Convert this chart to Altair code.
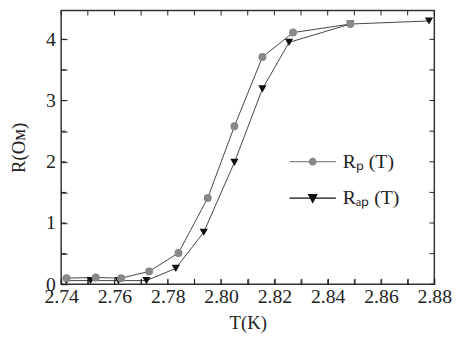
import altair as alt
import pandas as pd

# ---- data ----
T_P = [2.742, 2.753, 2.7625, 2.773, 2.784, 2.795, 2.805, 2.8155, 2.827, 2.8485]
R_P = [0.10, 0.11, 0.10, 0.21, 0.51, 1.41, 2.58, 3.71, 4.11, 4.25]
T_AP = [2.742, 2.751, 2.7615, 2.772, 2.783, 2.7935, 2.805, 2.8155, 2.8255, 2.8485, 2.878]
R_AP = [0.06, 0.06, 0.06, 0.06, 0.26, 0.85, 1.99, 3.19, 3.95, 4.25, 4.30]
SERIES = ["Rₚ (T)", "Rₐₚ (T)"]
X_TICKS = [2.74, 2.75, 2.76, 2.77, 2.78, 2.79, 2.80, 2.81, 2.82, 2.83, 2.84,
           2.85, 2.86, 2.87, 2.88]
Y_TICKS = [0, 0.5, 1, 1.5, 2, 2.5, 3, 3.5, 4]
X_DOMAIN = [2.74, 2.88]
Y_DOMAIN = [0, 4.47]

df_p = pd.DataFrame({"T": T_P, "R": R_P, "series": SERIES[0]})
df_ap = pd.DataFrame({"T": T_AP, "R": R_AP, "series": SERIES[1]})

W, H = 379, 278
FONT = "Liberation Serif"
TXT = "#222"
LINE = "#444"
GRAY = "#888888"
BLACK = "#111111"
TICK = 6
# inward tick length expressed in data units (about 5 px)
TLEN_Y = 0.08
TLEN_X = 0.0018

xs = alt.Scale(domain=X_DOMAIN, nice=False, zero=False)
ys = alt.Scale(domain=Y_DOMAIN, nice=False, zero=False)

label_x = alt.Axis(orient="bottom", offset=-TICK, values=X_TICKS, ticks=True,
                   tickSize=TICK, tickColor="#222", tickWidth=1, tickOpacity=1,
                   domain=False, grid=False, zindex=2,
                   labelExpr="round(datum.value*100) % 2 === 0 ? format(datum.value, '.2f') : ''",
                   labelFlush=False, labelOverlap=False, labelBound=False,
                   labelFont=FONT, labelFontSize=20, labelColor=TXT, labelPadding=3,
                   title="T(K)", titleFont=FONT, titleFontSize=19,
                   titleFontWeight="normal", titleColor=TXT, titlePadding=7)
label_y = alt.Axis(orient="left", offset=-TICK, values=Y_TICKS, ticks=True,
                   tickSize=TICK, tickColor="#222", tickWidth=1, tickOpacity=1,
                   domain=False, grid=False, zindex=2,
                   labelExpr="datum.value % 1 === 0 ? format(datum.value, 'd') : ''",
                   labelFlush=False, labelOverlap=False, labelBound=False,
                   labelFont=FONT, labelFontSize=20, labelColor=TXT, labelPadding=6,
                   title="R(Ом)", titleFont=FONT, titleFontSize=19,
                   titleFontWeight="normal", titleColor=TXT, titlePadding=17)

line_p = alt.Chart(df_p).mark_line(color=LINE, strokeWidth=1).encode(
    x=alt.X("T:Q", scale=xs, axis=label_x),
    y=alt.Y("R:Q", scale=ys, axis=label_y),
)
line_ap = alt.Chart(df_ap).mark_line(color=LINE, strokeWidth=1).encode(
    x=alt.X("T:Q", scale=xs, axis=None),
    y=alt.Y("R:Q", scale=ys, axis=None),
)

# inward ticks on all four sides of the frame, placed through the scales
xt = pd.DataFrame({"v": X_TICKS})
yt = pd.DataFrame({"v": Y_TICKS})
xt_bottom = xt.assign(a=Y_DOMAIN[0], b=Y_DOMAIN[0] + TLEN_Y)
xt_top = xt.assign(a=Y_DOMAIN[1] - TLEN_Y, b=Y_DOMAIN[1])
yt_left = yt.assign(a=X_DOMAIN[0], b=X_DOMAIN[0] + TLEN_X)
yt_right = yt.assign(a=X_DOMAIN[1] - TLEN_X, b=X_DOMAIN[1])

def xticks(df):
    return alt.Chart(df).mark_rule(color="#222", strokeWidth=1).encode(
        x=alt.X("v:Q", scale=xs, axis=None),
        y=alt.Y("a:Q", scale=ys, axis=None),
        y2="b:Q",
    )

def yticks(df):
    return alt.Chart(df).mark_rule(color="#222", strokeWidth=1).encode(
        y=alt.Y("v:Q", scale=ys, axis=None),
        x=alt.X("a:Q", scale=xs, axis=None),
        x2="b:Q",
    )

# legend symbols: a short line with the marker in its middle (both filled)
P_PATH = ("M-1,-0.025H1V0.025H-1Z"
          "M0.17,0A0.17,0.17 0 1,1 -0.17,0A0.17,0.17 0 1,1 0.17,0Z")
AP_PATH = "M-1,-0.025H1V0.025H-1ZM-0.22,-0.18L0.22,-0.18L0,0.24Z"

def legend(path, y):
    return alt.Legend(orient="none", legendX=231, legendY=y, title=None,
                      labelFont=FONT, labelFontSize=20, labelColor=TXT,
                      symbolSize=2209, symbolType=path, labelOffset=6)

tri = alt.Chart(df_ap).mark_point(filled=True, opacity=1, size=70,
                                  shape="triangle-down").encode(
    x=alt.X("T:Q", scale=xs, axis=None),
    y=alt.Y("R:Q", scale=ys, axis=None),
    color=alt.Color("series:N", scale=alt.Scale(domain=[SERIES[1]], range=[BLACK]),
                    legend=legend(AP_PATH, 166)),
)
circ = alt.Chart(df_p).mark_point(filled=True, opacity=1, size=65,
                                  shape="circle").encode(
    x=alt.X("T:Q", scale=xs, axis=None),
    y=alt.Y("R:Q", scale=ys, axis=None),
    color=alt.Color("series:N", scale=alt.Scale(domain=[SERIES[0]], range=[GRAY]),
                    legend=legend(P_PATH, 129)),
)

chart = alt.layer(
    line_p, xticks(xt_bottom), xticks(xt_top), yticks(yt_left), yticks(yt_right),
    line_ap, tri, circ,
).resolve_axis(
    x="independent", y="independent"
).resolve_scale(color="independent").resolve_legend(color="independent").properties(
    width=W, height=H,
    autosize=alt.AutoSizeParams(type="none"),
    padding={"left": 54, "top": 0, "right": 20, "bottom": 52},
    background="white",
).configure_view(stroke="#333", strokeWidth=1.5)

chart.save("out.html", embed_options={"renderer": "svg", "actions": False})
